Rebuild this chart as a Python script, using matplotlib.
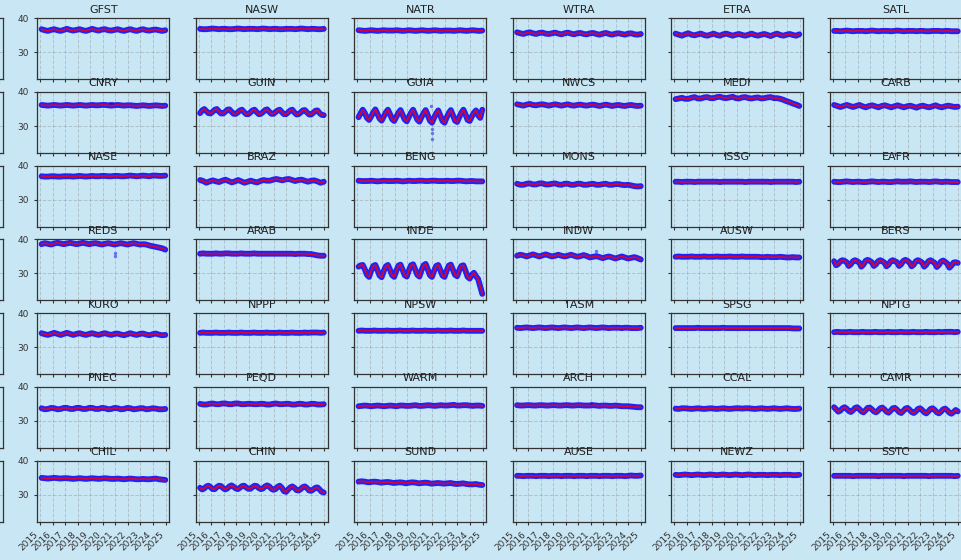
import numpy as np
import matplotlib.pyplot as plt

# seasonal means per region (4 or 6 samples a year)
gfst = [36.8,36.5,36.3,36.6, 36.8,36.5,36.3,36.6, 36.9,36.6,36.4,36.6, 36.8,36.5,36.3,36.6, 36.9,36.6,36.4,36.7,
        36.8,36.5,36.4,36.6, 36.8,36.5,36.3,36.6, 36.8,36.5,36.3,36.6, 36.8,36.5,36.4,36.6, 36.7,36.5,36.3,36.5]
nasw = [36.9,36.8,36.8,36.9, 37.0,36.9,36.8,36.9, 36.9,36.8,36.8,36.9, 37.0,36.9,36.8,36.9, 36.9,36.9,36.8,36.9,
        37.0,36.9,36.8,36.9, 36.9,36.8,36.8,36.9, 36.9,36.9,36.8,36.9, 37.0,36.9,36.8,36.9, 36.9,36.8,36.8,36.9]
natr = [36.5,36.4,36.3,36.4, 36.5,36.4,36.3,36.4, 36.5,36.4,36.4,36.4, 36.5,36.4,36.3,36.4, 36.5,36.4,36.3,36.4,
        36.5,36.4,36.3,36.4, 36.5,36.4,36.3,36.4, 36.4,36.4,36.3,36.4, 36.5,36.4,36.3,36.4, 36.5,36.4,36.3,36.4]
wtra = [35.9,35.6,35.4,35.7, 35.9,35.6,35.4,35.7, 35.8,35.5,35.4,35.6, 35.8,35.5,35.3,35.6, 35.8,35.5,35.3,35.6,
        35.7,35.4,35.3,35.6, 35.7,35.4,35.2,35.5, 35.7,35.4,35.2,35.5, 35.6,35.4,35.2,35.5, 35.6,35.3,35.2,35.4]
etra = [35.5,35.2,34.9,35.3, 35.6,35.2,35.0,35.3, 35.5,35.1,34.9,35.2, 35.5,35.1,34.9,35.3, 35.5,35.2,34.9,35.2,
        35.4,35.1,34.9,35.2, 35.5,35.1,34.9,35.2, 35.4,35.1,34.8,35.2, 35.5,35.1,34.9,35.2, 35.4,35.1,34.9,35.3]
satl = [36.3,36.3,36.2,36.3, 36.4,36.3,36.2,36.3, 36.3,36.3,36.2,36.3, 36.4,36.3,36.2,36.3, 36.3,36.3,36.2,36.3,
        36.4,36.3,36.2,36.3, 36.3,36.3,36.2,36.3, 36.3,36.2,36.2,36.3, 36.3,36.3,36.2,36.3, 36.3,36.2,36.2,36.2]

cnry = [36.2,36.1,36.0,36.1, 36.2,36.1,36.0,36.1, 36.2,36.1,36.0,36.1, 36.2,36.1,36.0,36.1, 36.2,36.1,36.1,36.2,
        36.2,36.1,36.0,36.1, 36.2,36.1,36.0,36.1, 36.1,36.0,35.9,36.0, 36.1,36.0,35.9,36.0, 36.1,36.0,35.9,36.0]
guin = [33.8,34.6,35.0,34.4,33.8,33.7, 34.2,34.8,35.0,34.3,33.7,33.7, 34.2,34.8,34.9,34.2,33.6,33.6,
        34.0,34.6,34.8,34.1,33.5,33.5, 34.0,34.6,34.8,34.1,33.5,33.6, 34.1,34.7,34.9,34.2,33.6,33.6,
        34.1,34.6,34.8,34.1,33.5,33.5, 34.0,34.6,34.8,34.0,33.4,33.5, 34.0,34.6,34.7,34.0,33.4,33.4,
        33.9,34.5,34.6,33.8,33.3,33.2]
guia = [32.6,33.8,34.8,33.8,32.4,31.8, 32.8,34.0,34.9,33.6,32.2,31.6, 32.8,34.0,34.8,33.5,32.0,31.5,
        32.7,33.9,34.7,33.3,31.9,31.4, 32.7,33.9,34.8,33.4,31.9,31.3, 32.6,33.8,34.7,33.2,31.6,31.0,
        32.4,33.7,34.6,33.1,31.5,31.0, 32.5,33.8,34.7,33.2,31.6,31.2, 32.6,33.9,34.8,33.4,31.8,31.5,
        32.8,33.9,34.6,33.2,32.4,34.8]
nwcs = [36.4,36.2,36.0,36.3, 36.5,36.2,36.1,36.3, 36.4,36.2,36.0,36.2, 36.4,36.2,36.0,36.2, 36.4,36.1,36.0,36.2,
        36.3,36.1,36.0,36.2, 36.3,36.1,35.9,36.1, 36.3,36.1,35.9,36.1, 36.2,36.0,35.9,36.1, 36.2,36.0,35.9,36.0]
medi = [37.9,38.1,38.3,38.0, 38.0,38.3,38.5,38.1, 38.1,38.4,38.5,38.2, 38.2,38.5,38.6,38.3, 38.2,38.4,38.6,38.2,
        38.1,38.4,38.5,38.2, 38.1,38.3,38.4,38.1, 38.2,38.4,38.5,38.2, 38.2,38.0,37.7,37.3, 37.0,36.6,36.3,35.9]
carb = [36.2,35.9,35.6,35.9, 36.2,35.9,35.6,35.9, 36.2,35.8,35.5,35.9, 36.1,35.8,35.5,35.9, 36.1,35.8,35.5,35.8,
        36.1,35.8,35.5,35.8, 36.0,35.7,35.4,35.8, 36.0,35.7,35.5,35.8, 36.1,35.7,35.5,35.8, 36.0,35.8,35.6,35.7]

nase = [36.9,36.8,36.8,36.9, 36.9,36.8,36.8,36.9, 36.9,36.9,36.8,36.9, 37.0,36.9,36.8,36.9, 37.0,36.9,36.9,37.0,
        37.0,36.9,36.9,37.0, 37.0,36.9,36.9,37.0, 37.1,37.0,36.9,37.0, 37.1,37.0,36.9,37.1, 37.1,37.0,37.0,37.1]
braz = [35.8,35.5,35.0,35.4, 35.7,35.4,35.2,35.6, 35.9,35.5,35.1,35.4, 35.8,35.4,35.0,35.3, 35.6,35.3,35.1,35.5,
        35.8,35.6,35.6,35.9, 36.1,35.9,35.7,36.0, 36.1,35.8,35.5,35.8, 35.9,35.6,35.3,35.6, 35.7,35.4,35.0,35.3]
beng = [35.6,35.5,35.5,35.5, 35.6,35.5,35.4,35.5, 35.6,35.5,35.5,35.5, 35.6,35.5,35.4,35.5, 35.6,35.5,35.5,35.6,
        35.6,35.5,35.5,35.6, 35.6,35.5,35.5,35.5, 35.6,35.5,35.5,35.6, 35.6,35.5,35.4,35.5, 35.5,35.4,35.4,35.4]
mons = [34.7,34.4,34.4,34.7, 34.8,34.5,34.5,34.8, 34.8,34.5,34.5,34.7, 34.8,34.5,34.4,34.7, 34.7,34.4,34.4,34.7,
        34.7,34.4,34.4,34.6, 34.7,34.4,34.4,34.6, 34.7,34.4,34.4,34.6, 34.6,34.4,34.3,34.4, 34.2,34.0,33.9,34.0]
issg = [35.3,35.3,35.2,35.3, 35.3,35.3,35.2,35.3, 35.3,35.3,35.3,35.3, 35.3,35.3,35.2,35.3, 35.3,35.3,35.3,35.3,
        35.3,35.3,35.2,35.3, 35.3,35.3,35.3,35.3, 35.3,35.3,35.2,35.3, 35.3,35.3,35.3,35.3, 35.3,35.3,35.2,35.3]
eafr = [35.3,35.2,35.2,35.3, 35.4,35.3,35.2,35.3, 35.3,35.2,35.2,35.3, 35.4,35.3,35.2,35.3, 35.3,35.2,35.2,35.3,
        35.4,35.3,35.3,35.3, 35.4,35.3,35.2,35.3, 35.3,35.3,35.2,35.3, 35.4,35.3,35.2,35.3, 35.3,35.2,35.2,35.2]

reds = [38.6,38.9,38.7,38.5, 38.8,39.0,38.8,38.6, 38.8,39.0,38.8,38.6, 38.8,39.0,38.8,38.6, 38.8,38.9,38.7,38.5,
        38.7,38.9,38.7,38.5, 38.7,38.9,38.7,38.5, 38.7,38.9,38.7,38.5, 38.6,38.5,38.2,38.0, 37.8,37.6,37.4,37.0]
arab = [35.8,35.9,35.8,35.8, 35.8,35.9,35.8,35.8, 35.9,35.9,35.8,35.8, 35.8,35.9,35.8,35.8, 35.8,35.9,35.8,35.8,
        35.8,35.8,35.8,35.8, 35.8,35.8,35.8,35.8, 35.8,35.8,35.7,35.8, 35.8,35.8,35.7,35.7, 35.5,35.3,35.2,35.2]
inde = [32.0,32.4,32.5,31.2,29.6,29.0, 30.8,32.2,32.5,31.0,29.4,28.9, 30.7,32.1,32.5,31.1,29.5,29.0,
        30.8,32.3,32.6,31.1,29.5,29.1, 30.9,32.4,32.7,31.2,29.6,29.1, 30.9,32.4,32.8,31.2,29.5,29.0,
        30.7,32.2,32.5,31.0,29.4,29.0, 30.8,32.3,32.6,31.1,29.6,29.2, 30.9,32.2,32.4,30.8,29.0,28.5,
        29.6,30.2,29.2,28.4,26.2,24.0]
indw = [35.2,35.5,35.3,35.0, 35.3,35.6,35.3,35.0, 35.3,35.6,35.3,35.0, 35.2,35.5,35.2,35.0, 35.2,35.5,35.2,34.9,
        35.1,35.4,35.1,34.7, 34.9,35.1,34.8,34.5, 34.8,35.0,34.7,34.4, 34.7,35.0,34.7,34.4, 34.6,34.8,34.5,34.1]
ausw = [34.9,35.0,34.9,34.9, 34.9,35.0,34.9,34.9, 34.9,35.0,34.9,34.9, 34.9,35.0,34.9,34.9, 34.9,35.0,34.9,34.9,
        34.9,35.0,34.9,34.9, 34.9,34.9,34.9,34.8, 34.8,34.9,34.8,34.8, 34.8,34.9,34.8,34.7, 34.7,34.8,34.7,34.7]
bers = [33.6,32.4,32.8,33.6,33.9,33.7, 33.3,32.2,32.7,33.6,33.9,33.6, 33.2,32.0,32.6,33.7,34.0,33.7,
        33.3,32.2,32.7,33.6,33.9,33.6, 33.2,32.1,32.6,33.6,33.9,33.6, 33.3,32.2,32.7,33.7,34.0,33.7,
        33.2,32.1,32.6,33.6,33.9,33.6, 33.2,32.0,32.6,33.6,33.9,33.5, 33.1,31.9,32.5,33.5,33.8,33.4,
        32.9,31.7,32.3,33.2,33.3,33.1]

kuro = [34.1,33.8,33.6,33.9, 34.2,33.9,33.6,33.9, 34.2,33.9,33.6,33.9, 34.1,33.8,33.6,33.9, 34.1,33.8,33.6,33.9,
        34.1,33.8,33.6,33.9, 34.0,33.7,33.5,33.8, 34.1,33.8,33.6,33.9, 34.0,33.7,33.5,33.8, 34.0,33.7,33.5,33.6]
nppf = [34.2,34.3,34.2,34.2, 34.2,34.3,34.2,34.2, 34.2,34.3,34.2,34.2, 34.2,34.3,34.2,34.2, 34.2,34.3,34.2,34.2,
        34.2,34.3,34.2,34.2, 34.2,34.3,34.2,34.2, 34.2,34.3,34.2,34.2, 34.2,34.3,34.2,34.3, 34.3,34.3,34.2,34.3]
npsw = [34.8,34.9,34.8,34.8, 34.8,34.9,34.8,34.8, 34.8,34.9,34.8,34.8, 34.8,34.9,34.8,34.8, 34.8,34.9,34.8,34.8,
        34.8,34.9,34.8,34.8, 34.8,34.9,34.8,34.8, 34.8,34.9,34.8,34.8, 34.8,34.9,34.8,34.8, 34.8,34.8,34.8,34.8]
tasm = [35.7,35.6,35.7,35.8, 35.7,35.6,35.7,35.8, 35.7,35.6,35.7,35.8, 35.7,35.6,35.7,35.8, 35.7,35.6,35.7,35.8,
        35.7,35.6,35.7,35.8, 35.7,35.6,35.7,35.8, 35.7,35.6,35.7,35.7, 35.7,35.6,35.7,35.7, 35.6,35.6,35.6,35.7]
spsg = [35.6,35.6,35.6,35.6, 35.6,35.6,35.6,35.7, 35.6,35.6,35.6,35.6, 35.6,35.6,35.6,35.7, 35.6,35.6,35.6,35.6,
        35.6,35.6,35.6,35.6, 35.6,35.6,35.6,35.6, 35.6,35.6,35.6,35.6, 35.6,35.6,35.6,35.6, 35.6,35.5,35.5,35.5]
nptg = [34.4,34.5,34.4,34.4, 34.4,34.5,34.4,34.4, 34.4,34.5,34.4,34.4, 34.4,34.5,34.4,34.4, 34.4,34.5,34.4,34.4,
        34.4,34.5,34.4,34.4, 34.4,34.5,34.4,34.4, 34.4,34.5,34.4,34.4, 34.4,34.5,34.4,34.5, 34.5,34.5,34.4,34.5]

pnec = [33.7,33.4,33.5,33.8, 33.7,33.4,33.5,33.8, 33.8,33.5,33.5,33.8, 33.8,33.5,33.5,33.8, 33.8,33.5,33.5,33.8,
        33.7,33.4,33.5,33.8, 33.7,33.4,33.5,33.8, 33.7,33.4,33.5,33.7, 33.7,33.4,33.5,33.7, 33.6,33.4,33.4,33.5]
peqd = [35.0,34.8,34.8,35.0, 35.1,34.9,34.9,35.1, 35.1,34.9,34.9,35.1, 35.1,34.9,34.9,35.0, 35.0,34.9,34.9,35.0,
        35.0,34.8,34.8,35.0, 35.1,34.9,34.9,35.0, 35.0,34.8,34.8,35.0, 35.0,34.8,34.8,35.0, 35.0,34.8,34.8,34.9]
warm = [34.3,34.4,34.5,34.4, 34.3,34.4,34.5,34.4, 34.3,34.4,34.5,34.4, 34.3,34.5,34.5,34.4, 34.4,34.5,34.6,34.4,
        34.4,34.5,34.6,34.5, 34.4,34.5,34.6,34.5, 34.5,34.6,34.7,34.5, 34.5,34.6,34.6,34.5, 34.4,34.5,34.5,34.4]
arch = [34.6,34.5,34.5,34.6, 34.6,34.5,34.5,34.6, 34.6,34.5,34.5,34.6, 34.6,34.5,34.5,34.6, 34.6,34.5,34.5,34.6,
        34.6,34.5,34.5,34.5, 34.6,34.5,34.4,34.5, 34.5,34.4,34.4,34.5, 34.4,34.3,34.3,34.3, 34.2,34.1,34.0,34.0]
ccal = [33.6,33.5,33.7,33.7, 33.6,33.5,33.6,33.7, 33.6,33.5,33.6,33.7, 33.6,33.5,33.6,33.7, 33.6,33.5,33.6,33.7,
        33.7,33.6,33.7,33.7, 33.6,33.5,33.6,33.7, 33.6,33.5,33.6,33.7, 33.6,33.5,33.6,33.7, 33.6,33.5,33.5,33.6]
camr = [34.0,33.4,32.7,33.0,33.7,34.0, 33.6,32.9,32.6,33.1,33.8,34.0, 33.5,32.8,32.5,33.1,33.8,33.9,
        33.4,32.8,32.5,33.0,33.7,33.9, 33.4,32.7,32.4,33.0,33.7,33.8, 33.3,32.6,32.3,32.9,33.6,33.8,
        33.3,32.6,32.3,32.8,33.5,33.7, 33.2,32.5,32.2,32.8,33.5,33.7, 33.2,32.5,32.2,32.7,33.4,33.6,
        33.1,32.4,32.1,32.6,33.2,32.8]

chil = [34.9,34.8,34.7,34.8, 34.9,34.8,34.7,34.8, 34.8,34.7,34.6,34.7, 34.8,34.7,34.6,34.7, 34.8,34.7,34.6,34.7,
        34.8,34.7,34.6,34.6, 34.7,34.6,34.5,34.6, 34.7,34.6,34.5,34.5, 34.6,34.5,34.5,34.6, 34.7,34.5,34.4,34.3]
chin = [32.0,31.5,31.8,32.4,32.6,32.2, 31.6,31.6,32.2,32.6,32.5,31.9, 31.5,31.8,32.4,32.7,32.3,31.8,
        31.6,32.0,32.5,32.6,32.1,31.7, 31.7,32.2,32.6,32.5,31.9,31.6, 31.8,32.4,32.7,32.4,31.7,31.4,
        31.6,32.3,32.6,32.0,31.0,30.8, 31.5,32.1,32.4,32.0,31.3,31.2, 31.6,32.2,32.4,31.9,31.2,31.1,
        31.5,32.0,32.1,31.5,30.8,30.6]
sund = [33.8,33.9,33.8,33.6, 33.7,33.8,33.7,33.5, 33.6,33.7,33.6,33.4, 33.5,33.6,33.5,33.3, 33.5,33.6,33.5,33.3,
        33.4,33.5,33.4,33.2, 33.3,33.4,33.3,33.2, 33.3,33.4,33.2,33.1, 33.2,33.3,33.1,33.0, 33.0,33.1,32.9,32.8]
ause = [35.5,35.5,35.4,35.5, 35.5,35.5,35.4,35.5, 35.5,35.5,35.4,35.5, 35.5,35.5,35.4,35.5, 35.5,35.5,35.4,35.5,
        35.5,35.5,35.4,35.5, 35.5,35.5,35.4,35.5, 35.5,35.5,35.4,35.5, 35.5,35.5,35.4,35.5, 35.6,35.5,35.5,35.6]
newz = [35.8,35.7,35.8,35.9, 35.8,35.7,35.8,35.9, 35.8,35.7,35.8,35.9, 35.8,35.7,35.8,35.9, 35.8,35.7,35.8,35.9,
        35.8,35.7,35.8,35.9, 35.8,35.7,35.8,35.8, 35.8,35.7,35.8,35.8, 35.8,35.7,35.8,35.8, 35.8,35.7,35.7,35.8]
sstc = [35.5,35.5,35.5,35.5, 35.5,35.5,35.4,35.5, 35.5,35.5,35.5,35.5, 35.5,35.5,35.4,35.5, 35.5,35.5,35.5,35.5,
        35.5,35.5,35.4,35.5, 35.5,35.5,35.5,35.5, 35.5,35.5,35.4,35.5, 35.5,35.5,35.5,35.5, 35.5,35.5,35.4,35.5]

regions = ['GFST', 'NASW', 'NATR', 'WTRA', 'ETRA', 'SATL',
           'CNRY', 'GUIN', 'GUIA', 'NWCS', 'MEDI', 'CARB',
           'NASE', 'BRAZ', 'BENG', 'MONS', 'ISSG', 'EAFR',
           'REDS', 'ARAB', 'INDE', 'INDW', 'AUSW', 'BERS',
           'KURO', 'NPPF', 'NPSW', 'TASM', 'SPSG', 'NPTG',
           'PNEC', 'PEQD', 'WARM', 'ARCH', 'CCAL', 'CAMR',
           'CHIL', 'CHIN', 'SUND', 'AUSE', 'NEWZ', 'SSTC']
series = [gfst, nasw, natr, wtra, etra, satl,
          cnry, guin, guia, nwcs, medi, carb,
          nase, braz, beng, mons, issg, eafr,
          reds, arab, inde, indw, ausw, bers,
          kuro, nppf, npsw, tasm, spsg, nptg,
          pnec, peqd, warm, arch, ccal, camr,
          chil, chin, sund, ause, newz, sstc]

# single stray observations away from the main band
out_region = ['CNRY', 'CNRY', 'GUIA', 'GUIA', 'GUIA', 'GUIA', 'REDS', 'REDS', 'INDW', 'ARCH']
out_year = [2020.6, 2020.7, 2020.9, 2021.0, 2021.0, 2021.0, 2021.0, 2021.0, 2021.4, 2021.0]
out_val = [36.9, 36.7, 35.8, 29.0, 28.0, 26.2, 36.0, 35.2, 36.5, 35.3]

years = list(range(2015, 2026))
t_start, t_end = 2015.12, 2024.98

bg = '#c8e6f4'
W, H = 961, 560
ax_w, ax_h = 132, 61
col_left = [37.3 + 158.5 * k for k in range(6)]
row_top = [18.3 + 73.7 * k for k in range(7)]

fig = plt.figure(figsize=(W / 100, H / 100), dpi=100, facecolor=bg)


def make_axes(left, top, xlabels, ylabels):
    ax = fig.add_axes([left / W, 1 - (top + ax_h) / H, ax_w / W, ax_h / H])
    ax.set_facecolor(bg)
    ax.set_xlim(2014.78, 2025.3)
    ax.set_ylim(22.1, 40)
    ax.set_xticks(years)
    ax.set_yticks([30, 40])
    ax.grid(True, linestyle='--', color='gray', alpha=0.35, lw=0.7)
    ax.tick_params(length=2.5, width=0.8, labelsize=6.5, colors='#333333')
    for s in ax.spines.values():
        s.set_color('#333333')
        s.set_linewidth(0.9)
    if xlabels:
        ax.set_xticklabels([str(y) for y in years], rotation=45, ha='right')
    else:
        ax.set_xticklabels([])
    if not ylabels:
        ax.set_yticklabels([])
    return ax


# column cut off at the left edge of the picture, only its right spine shows
for r in range(7):
    make_axes(2.7 - ax_w, row_top[r], False, False)

for i, name in enumerate(regions):
    r, c = divmod(i, 6)
    ax = make_axes(col_left[c], row_top[r], r == 6, c == 0)
    vals = series[i]
    t = np.linspace(t_start, t_end, len(vals))
    ax.plot(t, vals, color='blue', lw=4.2, alpha=0.85, solid_capstyle='round')
    ax.plot(t, vals, color='red', lw=1.3, alpha=0.8)
    ox = [x for x, n in zip(out_year, out_region) if n == name]
    oy = [v for v, n in zip(out_val, out_region) if n == name]
    if ox:
        ax.scatter(ox, oy, s=6, color='blue', alpha=0.5, lw=0)
    ax.set_title(name, fontsize=8, pad=4, color='#222222')

fig.savefig('out.png', dpi=100, facecolor=bg)
